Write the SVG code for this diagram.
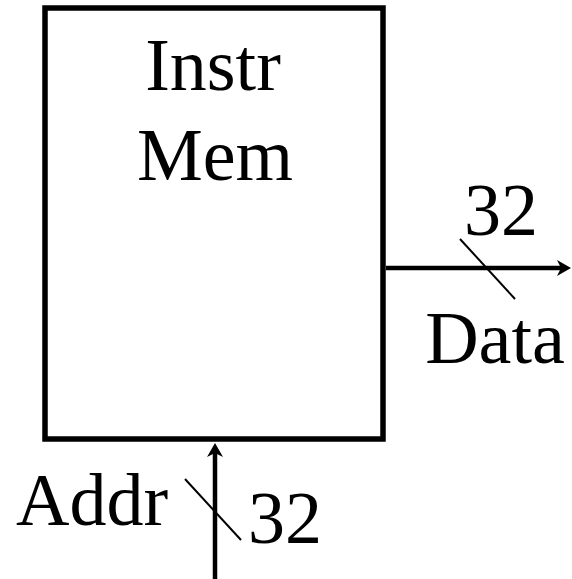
<svg xmlns="http://www.w3.org/2000/svg" width="572" height="579" viewBox="0 0 572 579">
  <style>
    .lbl { font-family: "Liberation Serif", "Times New Roman", serif; font-size: 74px; fill: #000; }
    .wire { stroke: #000; stroke-width: 4.5; fill: none; }
    .slash { stroke: #000; stroke-width: 2; fill: none; }
  </style>
  <defs>
    <marker id="arrow" markerUnits="userSpaceOnUse" markerWidth="14" markerHeight="16" viewBox="0 0 14 16" refX="4" refY="8" orient="auto">
      <path d="M0,0 L14,8 L0,16 L4,8 Z" fill="#000"/>
    </marker>
  </defs>
  <rect width="572" height="579" fill="#fff"/>
  <g id="instr-mem">
    <rect x="45" y="8" width="338" height="431" fill="#fff" stroke="#000" stroke-width="5.5"/>
    <text class="lbl" x="213" y="90" text-anchor="middle">Instr</text>
    <text class="lbl" x="215" y="180" text-anchor="middle">Mem</text>
  </g>
  <g id="connectors">
    <line class="wire" x1="386" y1="268" x2="561" y2="268" marker-end="url(#arrow)"/>
    <line class="slash" x1="460" y1="239" x2="515" y2="299"/>
    <line class="wire" x1="215" y1="579" x2="215" y2="453" marker-end="url(#arrow)"/>
    <line class="slash" x1="185" y1="479" x2="241" y2="540"/>
  </g>
  <g id="data-label">
    <text class="lbl" x="501" y="235" text-anchor="middle">32</text>
    <text class="lbl" x="495" y="363" text-anchor="middle">Data</text>
  </g>
  <g id="addr-label">
    <text class="lbl" x="92" y="525" text-anchor="middle">Addr</text>
    <text class="lbl" x="285" y="543" text-anchor="middle">32</text>
  </g>
</svg>
